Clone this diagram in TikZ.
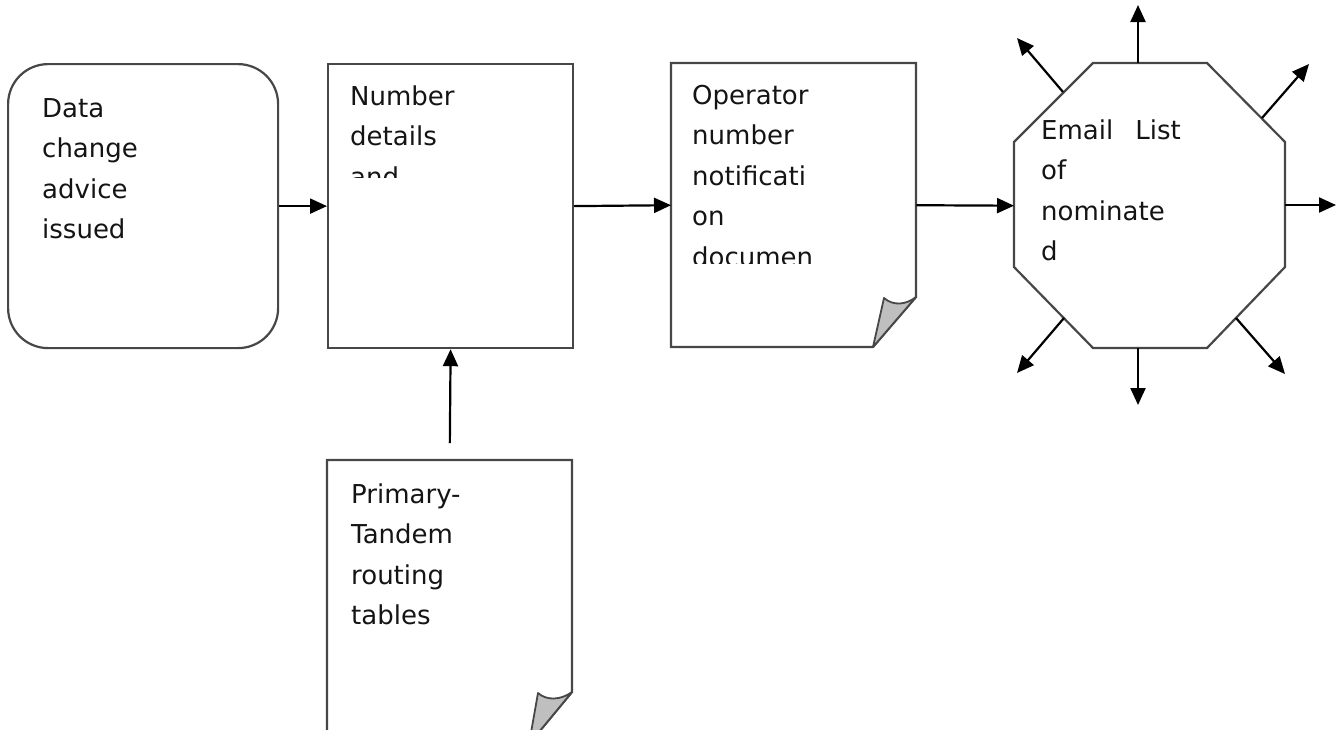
\documentclass[tikz,border=0pt]{standalone}
\usepackage{fontspec}
\setmainfont{DejaVu Sans}
\usetikzlibrary{arrows.meta}
\begin{document}
\begin{tikzpicture}[x=1pt,y=-1pt,
  outline/.style={draw=black!72, line width=2.2pt, line join=miter},
  frame/.style={inner sep=0pt, anchor=north west, minimum width=#1},
  flow/.style={draw=black, line width=2.2pt, -{Triangle[length=17pt,width=15pt]}},
  flap/.style={draw=black!72, fill=black!25, line width=1.8pt, line join=round},
  note/.style={inner sep=0pt, align=left, anchor=base west,
    font=\fontsize{26}{40.5}\selectfont, text=black!92}]
\useasboundingbox (0,0) rectangle (1337,729);

% process boxes
\node[outline, frame=270pt, minimum height=284pt, rounded corners=40pt] (advice) at (7,63) {};
\node[outline, frame=245pt, minimum height=284pt] (numbers) at (327,63) {};
\node[frame=245pt, minimum height=284pt] (notice) at (671,63) {};
\node[frame=245pt, minimum height=284pt] (tables) at (327,460) {};
\node[frame=271pt, minimum height=285pt] (mail) at (1014,63) {};

% document shapes with a turned-up corner
\draw[outline] (671,63) -- (916,63) -- (916,297) -- (873,347) -- (671,347) -- cycle;
\draw[flap] (873,347) -- (884,298) .. controls (893,306) and (906,305) .. (916,297) -- cycle;
\draw[outline] (327,460) -- (572,460) -- (572,692) -- (529,744) -- (327,744) -- cycle;
\draw[flap] (529,744) -- (538,693) .. controls (547,701) and (561,700) .. (572,692) -- cycle;

% distribution octagon
\draw[outline] (1093,63) -- (1207,63) -- (1285,142) -- (1285,267) -- (1207,348)
  -- (1093,348) -- (1014,267) -- (1014,142) -- cycle;

% labels (the base anchor sits on the last line)
\node[note] (advice-text) at (42,238.5) {Data\\change\\advice\\issued};
\begin{scope}
  \clip (327,63) rectangle (572,177);
  \node[note] (numbers-text) at (350,186) {Number\\details\\and};
\end{scope}
\begin{scope}
  \clip (671,63) rectangle (916,263);
  \node[note] (notice-text) at (692,266) {Operator\\number\\notificati\\on\\documen};
\end{scope}
\node[note] (tables-text) at (351,624.5) {Primary-\\Tandem\\routing\\tables};
\node[note] (mail-text) at (1041,260.5) {Email\hspace{22pt}List\\of\\nominate\\d};

% main flow
\draw[flow] (advice.east) -- (numbers.west);
\draw[flow] (numbers.east) -- (notice.west);
\draw[flow] (notice.east) -- (mail.west);
\draw[flow, shorten <=17pt] (tables.north) -- (numbers.south);

% outgoing mail
\coordinate (o-n) at (1138,63);   \coordinate (t-n) at (1138,5);
\coordinate (o-nw) at (1063,92);  \coordinate (t-nw) at (1017,38);
\coordinate (o-ne) at (1262,118); \coordinate (t-ne) at (1309,64);
\coordinate (o-e) at (1285,205);  \coordinate (t-e) at (1336,205);
\coordinate (o-se) at (1236,318); \coordinate (t-se) at (1285,374);
\coordinate (o-s) at (1138,348);  \coordinate (t-s) at (1138,405);
\coordinate (o-sw) at (1064,318); \coordinate (t-sw) at (1017,373);
\foreach \d in {n,nw,ne,e,se,s,sw}
  \draw[flow] (o-\d) -- (t-\d);
\end{tikzpicture}
\end{document}
